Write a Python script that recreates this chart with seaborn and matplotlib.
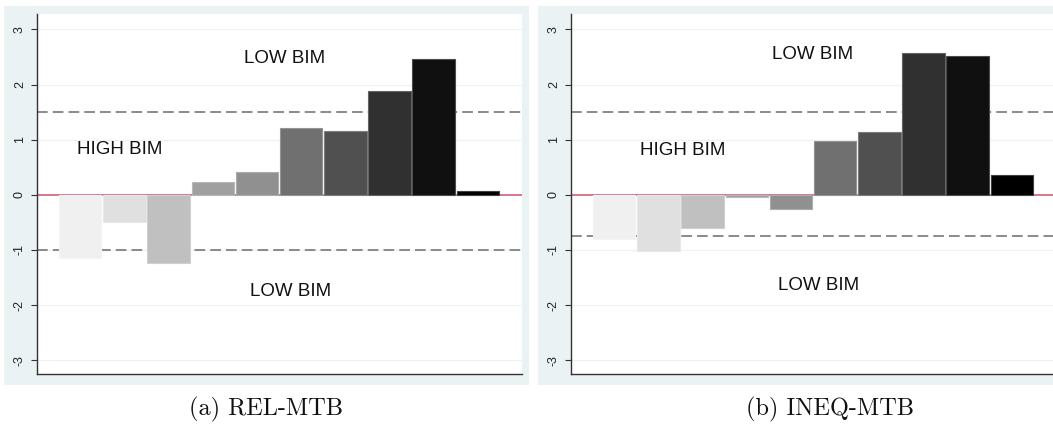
import numpy as np
import pandas as pd
import matplotlib
matplotlib.use("Agg")
import matplotlib.pyplot as plt
from matplotlib.patches import Rectangle
import seaborn as sns

# ---- data -------------------------------------------------------------
groups = [f"g{i}" for i in range(1, 11)]
rel_mtb = [-1.15, -0.49, -1.23, 0.24, 0.41, 1.22, 1.16, 1.88, 2.47, 0.07]
ineq_mtb = [-0.80, -1.02, -0.60, -0.04, -0.26, 0.98, 1.14, 2.58, 2.52, 0.36]

# grey scale fills, light to black
bar_colors = ["#f0f0f0", "#e0e0e0", "#c0c0c0", "#a0a0a0", "#909090",
              "#707070", "#505050", "#303030", "#101010", "#000000"]

rel_cuts = [1.5, -1.0]
ineq_cuts = [1.5, -0.75]

yticks = [-3, -2, -1, 0, 1, 2, 3]
captions = ["(a) REL-MTB", "(b) INEQ-MTB"]
zone_labels = ["LOW BIM", "HIGH BIM", "LOW BIM"]
rel_label_pos = [(4.63, 2.48), (0.90, 0.82), (4.77, -1.76)]
ineq_label_pos = [(4.48, 2.54), (1.54, 0.80), (4.62, -1.65)]

# ---- style ------------------------------------------------------------
sns.set_theme(style="white")
plt.rcParams["font.family"] = ["Liberation Sans", "DejaVu Sans"]

W, H = 1053, 429
fig = plt.figure(figsize=(W / 100, H / 100), dpi=100)
fig.patch.set_facecolor("white")

panel_bg = "#eaf2f3"
grid_col = "#edf3f4"
zero_col = "#d0607a"


def lighten(hexcol, f=0.25):
    r, g, b = matplotlib.colors.to_rgb(hexcol)
    return (r + (1 - r) * f, g + (1 - g) * f, b + (1 - b) * f)


def panel(x0_px, values, cuts, labels_pos, caption, cap_x_px):
    # outer panel background
    fig.patches.append(Rectangle((x0_px / W, (H - 385) / H), 525 / W, 379 / H,
                                 transform=fig.transFigure, facecolor=panel_bg,
                                 edgecolor="none", zorder=0))
    ax = fig.add_axes([(x0_px + 33) / W, (H - 374) / H, 485 / W, 360 / H])
    ax.set_facecolor("white")
    ax.set_zorder(1)

    df = pd.DataFrame({"group": groups, "value": values})
    sns.barplot(data=df, x="group", y="value", hue="group",
                palette=bar_colors, legend=False, width=0.96,
                saturation=1, ax=ax, zorder=3)
    for patch, c in zip(ax.patches, bar_colors):
        patch.set_edgecolor(lighten(c))
        patch.set_linewidth(0.8)

    for t in yticks:
        if t != 0:
            ax.axhline(t, color=grid_col, lw=0.9, zorder=1)
    ax.axhline(0, color=zero_col, lw=1.2, zorder=2)
    for c in cuts:
        ax.axhline(c, color="#8a8a8a", lw=1.4, ls=(0, (5.5, 2.6)), zorder=2)

    for txt, (x, y) in zip(zone_labels, labels_pos):
        ax.text(x, y, txt, ha="center", va="center", fontsize=13.5,
                color="#111111", zorder=4)

    ax.set_xlim(-0.98, 10.0)
    ax.set_ylim(-3.25, 3.28)
    ax.set_yticks(yticks)
    ax.set_yticklabels([str(t) for t in yticks], rotation=90, va="center",
                       fontsize=9, color="#222222")
    ax.set_xticks([])
    ax.set_xlabel("")
    ax.set_ylabel("")
    ax.tick_params(axis="y", direction="out", length=4, width=0.8,
                   color="#333333", pad=4, left=True)
    for side in ("top", "right"):
        ax.spines[side].set_visible(False)
    for side in ("left", "bottom"):
        ax.spines[side].set_color("#333333")
        ax.spines[side].set_linewidth(1.0)

    fig.text(cap_x_px / W, (H - 409) / H, caption, ha="center", va="center",
             fontsize=17.5, family="cmr10", color="#111111")
    return ax


panel(4, rel_mtb, rel_cuts, rel_label_pos, captions[0], 266)
panel(538, ineq_mtb, ineq_cuts, ineq_label_pos, captions[1], 830)

fig.savefig("out.png", dpi=100, facecolor="white")
